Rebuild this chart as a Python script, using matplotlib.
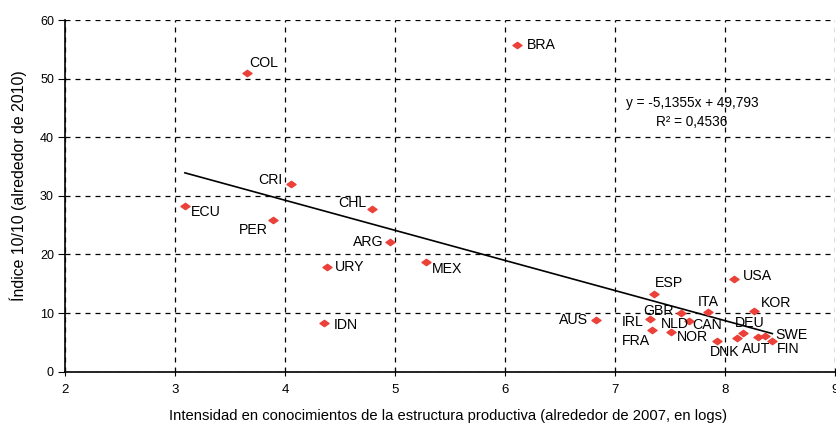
"""
Knowledge intensity vs. 10/10 index scatter with linear trend.
"""

import matplotlib
matplotlib.use("Agg")
import matplotlib.pyplot as plt
from matplotlib.path import Path

plt.rcParams["font.family"] = ["Liberation Sans", "DejaVu Sans"]

countries = ["BRA", "COL", "CRI", "ECU", "PER", "CHL", "ARG", "URY", "MEX",
             "IDN", "ESP", "USA", "ITA", "KOR", "GBR", "AUS", "IRL", "CAN",
             "FRA", "NLD", "NOR", "DNK", "DEU", "AUT", "SWE", "FIN"]
intensity = [6.11, 3.65, 4.05, 3.09, 3.89, 4.79, 4.95, 4.38, 5.28,
             4.35, 7.35, 8.08, 7.85, 8.26, 7.60, 6.83, 7.32, 7.67,
             7.34, 7.51, 7.93, 8.11, 8.16, 8.30, 8.36, 8.43]
index_1010 = [55.7, 51.0, 32.0, 28.3, 25.9, 27.8, 22.1, 17.9, 18.7,
              8.3, 13.3, 15.8, 10.2, 10.4, 10.0, 8.8, 9.0, 8.6,
              7.1, 6.8, 5.2, 5.7, 6.6, 5.9, 6.1, 5.2]

slope = -5.1355
intercept = 49.793
r2 = 0.4536

# label placement: (dx px, dy px, horizontal alignment)
label_pos = {
    "BRA": (10, 0, "left"), "COL": (3, 10, "left"), "CRI": (-8, 4, "right"),
    "ECU": (6, -6, "left"), "PER": (-5, -10, "right"), "CHL": (-6, 6, "right"),
    "ARG": (-6, 0, "right"), "URY": (8, 0, "left"), "MEX": (6, -7, "left"),
    "IDN": (10, -2, "left"), "ESP": (1, 11, "left"), "USA": (9, 3, "left"),
    "ITA": (0, 10, "center"), "KOR": (7, 8, "left"), "GBR": (-7, 2, "right"),
    "AUS": (-8, 0, "right"), "IRL": (-7, -3, "right"), "CAN": (4, -4, "left"),
    "FRA": (-2, -11, "right"), "NLD": (-10, 8, "left"), "NOR": (-9, 4, "right"),
    "DNK": (-27, -14, "left"), "DEU": (-8, 10, "left"), "AUT": (-16, -12, "left"),
    "SWE": (11, 1, "left"), "FIN": (5, -8, "left"),
}

diamond = Path([(-1, 0), (0, 0.7), (1, 0), (0, -0.7), (-1, 0)],
               [Path.MOVETO, Path.LINETO, Path.LINETO, Path.LINETO, Path.CLOSEPOLY])

fig = plt.figure(figsize=(8.37, 4.23), dpi=100)
ax = fig.add_axes([0.0777, 0.1213, 0.9199, 0.8314])

ax.set_xlim(2, 9)
ax.set_ylim(0, 60)
ax.set_xticks(range(2, 10))
ax.set_yticks(range(0, 61, 10))

ax.grid(True, color="black", linestyle=(0, (4, 4)), linewidth=0.9)
ax.set_axisbelow(True)
for side in ["top", "right"]:
    ax.spines[side].set_visible(False)
for side in ["left", "bottom"]:
    ax.spines[side].set_linewidth(1.2)

ax.tick_params(axis="x", direction="inout", length=6, labelsize=9.5, pad=6)
ax.tick_params(axis="y", direction="out", length=5, labelsize=9, pad=3)

# trend line over the data range
x0, x1 = min(intensity), max(intensity)
ax.plot([x0, x1], [slope * x0 + intercept, slope * x1 + intercept],
        color="black", linewidth=1.2, zorder=3)

ax.plot(intensity, index_1010, linestyle="none", marker=diamond,
        markersize=6.5, color="#EB4139", zorder=4, clip_on=False)

for name, xv, yv in zip(countries, intensity, index_1010):
    dx, dy, ha = label_pos[name]
    ax.annotate(name, (xv, yv), xytext=(dx, dy), textcoords="offset pixels",
                ha=ha, va="center", fontsize=10.2, zorder=5)

ax.text(7.70, 44.3,
        "y = -5,1355x + 49,793\nR² = {:.4f}".format(r2).replace(".", ","),
        ha="center", va="center", fontsize=9.8, linespacing=1.45)

ax.set_xlabel("Intensidad en conocimientos de la estructura productiva "
              "(alrededor de 2007, en logs)", fontsize=10.6)
ax.set_ylabel("Índice 10/10 (alrededor de 2010)", fontsize=11.4)
ax.xaxis.set_label_coords(0.497, -0.106)
ax.yaxis.set_label_coords(-0.049, 0.528)

fig.savefig("out.png", dpi=100)
plt.close(fig)
